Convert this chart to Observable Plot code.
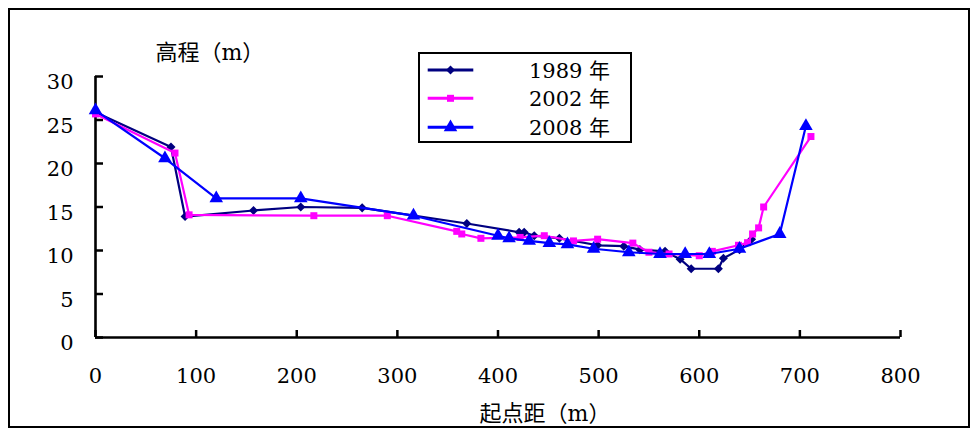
<!DOCTYPE html>
<html><head><meta charset="utf-8">
<script src="https://cdn.jsdelivr.net/npm/d3@7"></script>
<script src="https://cdn.jsdelivr.net/npm/@observablehq/plot@0.6"></script>
<style>
body{margin:0;background:#fff;}
#wrap{position:relative;width:973px;height:431px;}
#border{position:absolute;left:8px;top:8px;width:962px;height:420px;box-sizing:border-box;border:2px solid #000;pointer-events:none;}
#legend{position:absolute;left:418px;top:52px;width:214px;height:91px;box-sizing:border-box;border:2px solid #000;background:#fff;}
#legend svg{position:absolute;left:-2px;top:-2px;overflow:visible;}
svg text{font-family:'DejaVu Serif','Noto Sans CJK SC',serif;}
</style></head>
<body><div id="wrap"><div id="chart"></div><div id="legend"></div><div id="border"></div></div>
<script>
const xTicks = [0, 100, 200, 300, 400, 500, 600, 700, 800];
const yTicks = [0, 5, 10, 15, 20, 25, 30];
const xTitle = "起点距（m）";
const yTitle = "高程（m）";
const seriesNames = ["1989 年", "2002 年", "2008 年"];
const seriesColors = ["#000080", "#ff00ff", "#0000ff"];
const seriesSymbols = ["diamond2", "square", "triangle"];
const seriesSizes = [52, 49, 80];

const dist1989 = [0, 75, 89, 157, 204, 265, 369, 421, 426, 436, 461, 499, 525, 541, 566, 581, 592, 619, 624, 640, 652];
const elev1989 = [25.9, 21.9, 13.9, 14.6, 15.0, 14.9, 13.1, 12.1, 12.1, 11.7, 11.4, 10.6, 10.5, 10.1, 9.9, 9.0, 7.9, 7.9, 9.1, 10.1, 11.3];

const dist2002 = [0, 79, 93, 217, 290, 359, 364, 383, 422, 446, 475, 499, 534, 550, 570, 600, 613, 639, 648, 653, 659, 664, 711];
const elev2002 = [25.7, 21.2, 14.1, 14.0, 14.0, 12.2, 11.9, 11.4, 11.5, 11.7, 11.1, 11.3, 10.85, 9.8, 9.6, 9.4, 9.9, 10.6, 10.9, 11.9, 12.6, 15.0, 23.1];

const dist2008 = [0, 69, 120, 204, 316, 400, 411, 431, 451, 469, 495, 530, 561, 586, 610, 640, 680, 706];
const elev2008 = [26.1, 20.6, 16.0, 16.0, 14.0, 11.7, 11.4, 11.1, 10.85, 10.7, 10.2, 9.8, 9.6, 9.6, 9.6, 10.2, 11.9, 24.3];

const dists = [dist1989, dist2002, dist2008];
const elevs = [elev1989, elev2002, elev2008];

const seriesMarks = [];
dists.forEach((ds, i) => {
  const data = ds.map((d, j) => ({x: d, y: elevs[i][j]}));
  seriesMarks.push(Plot.line(data, {x: "x", y: "y", stroke: seriesColors[i], strokeWidth: 2.2}));
  seriesMarks.push(Plot.dot(data, {x: "x", y: "y", symbol: seriesSymbols[i], r: Math.sqrt(seriesSizes[i] / Math.PI), fill: seriesColors[i], stroke: "none"}));
});

const chart = Plot.plot({
  width: 973, height: 431,
  marginLeft: 95, marginRight: 73, marginTop: 76, marginBottom: 94,
  x: {domain: [0, 800]},
  y: {domain: [0, 30]},
  style: {fontSize: "21px", color: "#000", background: "transparent"},
  marks: [
    Plot.axisY({ticks: yTicks, tickSize: -8, tickFormat: () => "", strokeWidth: 2.5, label: null}),
    Plot.axisY({ticks: yTicks, tickSize: 0, tickPadding: 22, dy: 6, fontSize: 21, label: null}),
    Plot.axisX({ticks: xTicks, tickSize: -7, tickPadding: 38, strokeWidth: 2.5, fontSize: 21, label: null}),
    Plot.ruleX([0], {strokeWidth: 2.6, stroke: "#000"}),
    Plot.ruleY([0], {strokeWidth: 2.6, stroke: "#000"}),
    ...seriesMarks,
    Plot.text([yTitle], {frameAnchor: "top-left", textAnchor: "start", lineAnchor: "middle", dx: 60, dy: -24, fontSize: 22, fill: "#000"}),
    Plot.text([xTitle], {frameAnchor: "bottom", textAnchor: "middle", lineAnchor: "middle", dx: 47, dy: 76, fontSize: 22, fill: "#000"})
  ]
});
document.getElementById("chart").appendChild(chart);

// legend
const lg = d3.select("#legend").append("svg").attr("width", 214).attr("height", 91);
const rowY = [18, 46.3, 75.3];
const symMap = {diamond2: d3.symbolDiamond2, square: d3.symbolSquare, triangle: d3.symbolTriangle};
seriesNames.forEach((name, i) => {
  const g = lg.append("g").attr("transform", `translate(0,${rowY[i]})`);
  g.append("line").attr("x1", 9.7).attr("x2", 55.3).attr("stroke", seriesColors[i]).attr("stroke-width", 3);
  g.append("path").attr("transform", "translate(32.5,0)").attr("d", d3.symbol(symMap[seriesSymbols[i]], seriesSizes[i])()).attr("fill", seriesColors[i]);
  g.append("text").attr("x", 111).attr("dy", "0.36em").attr("font-size", 21).attr("fill", "#000").text(name);
});
</script>
</body></html>
